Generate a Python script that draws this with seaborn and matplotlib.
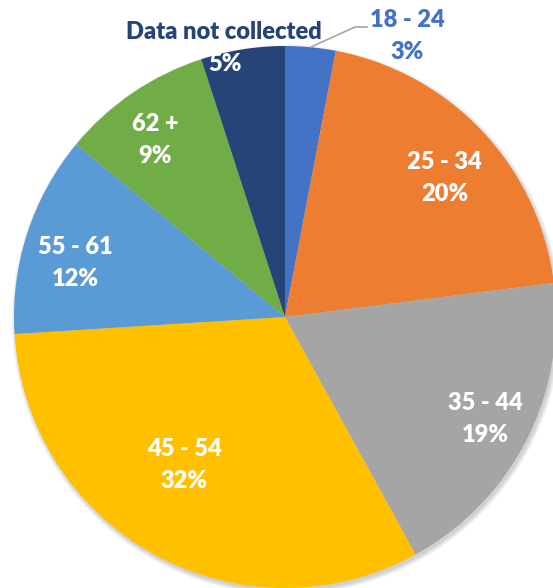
import numpy as np
import matplotlib
matplotlib.use("Agg")
import matplotlib.pyplot as plt
from matplotlib.patches import Circle
import seaborn as sns

age_groups = ['18 - 24', '25 - 34', '35 - 44', '45 - 54', '55 - 61', '62 +', 'Data not collected']
shares = [3, 20, 19, 32, 12, 9, 5]
colors = ['#4472C4', '#ED7D31', '#A5A5A5', '#FFC000', '#5B9BD5', '#70AD47', '#264478']

sns.set_style("white")
plt.rcParams['font.family'] = ['Lato', 'DejaVu Sans']

fig = plt.figure(figsize=(5.53, 5.88), dpi=100)
# pie is 542 px across, centred at (285, 317) in the image
ax = fig.add_axes([14 / 553, 0, 542 / 553, 542 / 588])
ax.axis('off')

# soft shadow under the pie
for i in range(6):
    ax.add_patch(Circle((0.006, -0.010), 1 + 0.003 * i, color='black', alpha=0.03,
                        lw=0, zorder=0, clip_on=False))

wedges, _ = ax.pie(shares, colors=colors, startangle=90, counterclock=False,
                   radius=1, wedgeprops=dict(linewidth=0))
ax.set_xlim(-1, 1)
ax.set_ylim(-1, 1)
ax.set_aspect('equal')
for w in wedges:
    w.set_clip_on(False)
    w.set_zorder(2)

# label placement: radial distance and angular nudge (degrees) per slice
label_r = [None, 0.78, 0.83, 0.66, 0.80, 0.81, 0.96]
label_shift = [0, -2.2, 0, -5.5, 3.6, 2.1, 4.3]
fs = 17
ls = 1.55
fw = 'heavy'
for w, name, pct, r, sh in zip(wedges, age_groups, shares, label_r, label_shift):
    mid = np.deg2rad((w.theta1 + w.theta2) / 2 + sh)
    if name == '18 - 24':
        x0, y0 = np.cos(mid), np.sin(mid)
        ax.plot([x0, 0.258, 0.303], [y0, 1.070, 1.070], color='#A5A5A5', lw=1.2,
                clip_on=False, zorder=3)
        ax.text(0.450, 1.036, f'{name}\n{pct}%', ha='center', va='center', color=colors[0],
                fontsize=fs, fontweight=fw, linespacing=ls, clip_on=False, zorder=4)
    elif name == 'Data not collected':
        x, y = r * np.cos(mid), r * np.sin(mid)
        ax.text(x, y, f'{pct}%', ha='center', va='center', color='white',
                fontsize=fs, fontweight=fw, zorder=4)
        ax.text(-0.225, 1.052, name, ha='center', va='center', color=colors[6],
                fontsize=fs, fontweight=fw, clip_on=False, zorder=4)
    else:
        x, y = r * np.cos(mid), r * np.sin(mid)
        ax.text(x, y, f'{name}\n{pct}%', ha='center', va='center', color='white',
                fontsize=fs, fontweight=fw, linespacing=ls, zorder=4)

fig.savefig('out.png', dpi=100)
